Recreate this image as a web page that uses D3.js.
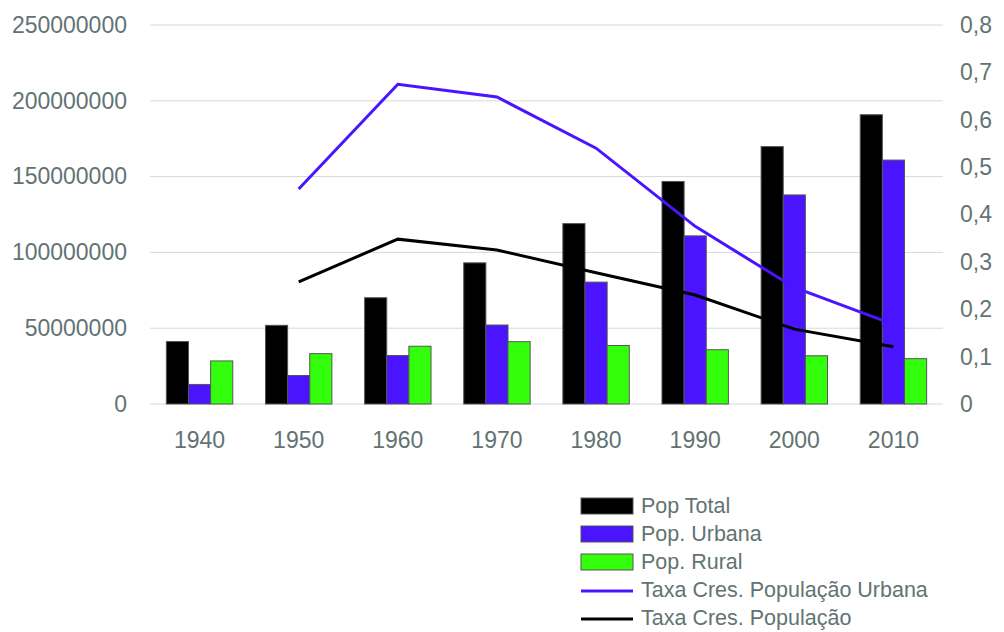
<!DOCTYPE html>
<html>
<head>
<meta charset="utf-8">
<script src="https://cdn.jsdelivr.net/npm/d3@7"></script>
<style>
  body { margin: 0; background: #fff; }
  text { font-family: "Liberation Sans", Arial, sans-serif; fill: #637373; }
</style>
</head>
<body>
<div id="chart"></div>
<script>
var years = ["1940", "1950", "1960", "1970", "1980", "1990", "2000", "2010"];
var popTotal = [41200000, 51900000, 70100000, 93100000, 119000000, 146800000, 169800000, 190800000];
var popUrbana = [12900000, 18800000, 32000000, 52100000, 80400000, 110900000, 137900000, 160900000];
var popRural = [28400000, 33200000, 38100000, 41100000, 38600000, 35800000, 31800000, 29900000];
var taxaUrbana = [null, 0.454, 0.675, 0.648, 0.54, 0.375, 0.246, 0.168];
var taxaPop = [null, 0.258, 0.348, 0.325, 0.277, 0.23, 0.158, 0.121];
var leftTicks = [0, 50000000, 100000000, 150000000, 200000000, 250000000];
var rightTicks = [0, 0.1, 0.2, 0.3, 0.4, 0.5, 0.6, 0.7, 0.8];

var svgWidth = 1004, svgHeight = 632;
var margin = { top: 25, left: 150, right: 61, bottom: 228 };
var width = svgWidth - margin.left - margin.right;
var height = svgHeight - margin.top - margin.bottom;

var svg = d3.select("#chart").append("svg")
  .attr("width", svgWidth)
  .attr("height", svgHeight);

var chartGroup = svg.append("g")
  .attr("transform", `translate(${margin.left}, ${margin.top})`);

var x = d3.scaleBand().domain(years).range([0, width]).paddingInner(0.33).paddingOuter(0.165);
var xCenter = d3.scaleBand().domain(years).range([0, width]);
var yLeft = d3.scaleLinear().domain([0, 250000000]).range([height, 0]);
var yRight = d3.scaleLinear().domain([0, 0.8]).range([height, 0]);

// gridlines
chartGroup.append("g").selectAll("line")
  .data(leftTicks)
  .enter()
  .append("line")
  .attr("x1", 0).attr("x2", width)
  .attr("y1", d => yLeft(d)).attr("y2", d => yLeft(d))
  .attr("stroke", "#d3dada")
  .attr("stroke-width", 1);

// left axis labels
var leftAxis = d3.axisLeft(yLeft).tickValues(leftTicks).tickSize(0).tickPadding(23).tickFormat(d3.format("d"));
chartGroup.append("g").call(leftAxis)
  .call(g => g.select(".domain").remove())
  .selectAll("text").style("font-size", "23px").attr("fill", "#637373");

// right axis labels
var rightAxis = d3.axisRight(yRight).tickValues(rightTicks).tickSize(0).tickPadding(17)
  .tickFormat(d => d === 0 ? "0" : d3.format(".1f")(d).replace(".", ","));
chartGroup.append("g").attr("transform", `translate(${width}, 0)`).call(rightAxis)
  .call(g => g.select(".domain").remove())
  .selectAll("text").style("font-size", "23px").attr("fill", "#637373");

// x axis labels
var bottomAxis = d3.axisBottom(xCenter).tickSize(0).tickPadding(28);
chartGroup.append("g").attr("transform", `translate(0, ${height})`).call(bottomAxis)
  .call(g => g.select(".domain").remove())
  .selectAll("text").style("font-size", "23px").attr("fill", "#637373");

// bars
var series = [
  { name: "Pop Total", values: popTotal, color: "#000000" },
  { name: "Pop. Urbana", values: popUrbana, color: "#4a14ff" },
  { name: "Pop. Rural", values: popRural, color: "#33ff0d" }
];
var barW = x.bandwidth() / 3;

series.forEach(function(s, i) {
  chartGroup.append("g").selectAll("rect")
    .data(s.values)
    .enter()
    .append("rect")
    .attr("x", (d, j) => x(years[j]) + i * barW)
    .attr("y", d => yLeft(d))
    .attr("width", barW)
    .attr("height", d => height - yLeft(d))
    .attr("fill", s.color)
    .attr("stroke", "#555")
    .attr("stroke-width", 1);
});

// lines
var lineGen = d3.line()
  .defined(d => d != null)
  .x((d, j) => xCenter(years[j]) + xCenter.bandwidth() / 2)
  .y(d => yRight(d));

var lines = [
  { name: "Taxa Cres. População Urbana", values: taxaUrbana, color: "#4a14ff" },
  { name: "Taxa Cres. População", values: taxaPop, color: "#000000" }
];

lines.forEach(function(l) {
  chartGroup.append("path")
    .datum(l.values)
    .attr("d", lineGen)
    .attr("fill", "none")
    .attr("stroke", l.color)
    .attr("stroke-width", 3);
});

// legend
var legend = svg.append("g").attr("transform", "translate(581, 506)");
var items = series.map(s => ({ name: s.name, color: s.color, type: "bar" }))
  .concat(lines.map(l => ({ name: l.name, color: l.color, type: "line" })));

items.forEach(function(it, i) {
  var g = legend.append("g").attr("transform", `translate(0, ${i * 28})`);
  if (it.type === "bar") {
    g.append("rect").attr("x", 0).attr("y", -8).attr("width", 52).attr("height", 16)
      .attr("fill", it.color).attr("stroke", "#555").attr("stroke-width", 1);
  } else {
    g.append("line").attr("x1", 0).attr("x2", 52).attr("y1", 1).attr("y2", 1)
      .attr("stroke", it.color).attr("stroke-width", 3);
  }
  g.append("text").attr("x", 60).attr("y", 7)
    .style("font-size", "21.5px")
    .text(it.name);
});
</script>
</body>
</html>
